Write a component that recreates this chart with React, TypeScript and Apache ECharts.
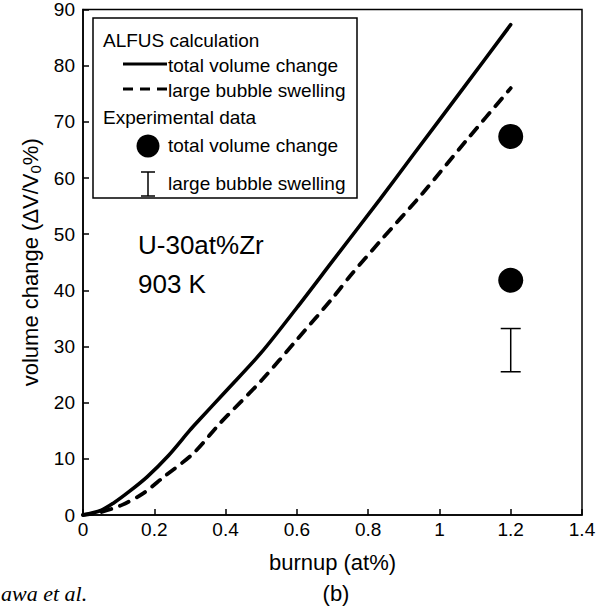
import React, { useEffect, useRef } from "react";
import * as echarts from "echarts";

// ALFUS calculation: total volume change (solid)
const totalX = [0, 0.05, 0.085, 0.13, 0.18, 0.24, 0.3, 0.32, 0.4, 0.5, 0.6, 0.7, 0.833, 0.925, 1.066, 1.2];
const totalY = [0, 0.8, 2.1, 4.2, 6.8, 10.6, 15.1, 16.5, 22.0, 28.9, 36.9, 45.2, 56.2, 64.0, 75.9, 87.3];
// ALFUS calculation: large bubble swelling (dashed)
const bubbleX = [0, 0.05, 0.11, 0.17, 0.225, 0.31, 0.384, 0.5, 0.6, 0.7, 0.75, 0.833, 0.953, 1.077, 1.2];
const bubbleY = [0, 0.5, 1.8, 3.9, 6.7, 11.0, 16.3, 23.9, 31.2, 38.6, 42.6, 48.7, 57.3, 66.8, 76.0];
// Experimental data
const expX = [1.2, 1.2];
const expTotal = [67.4, 41.8];
const errX = [1.2];
const errLow = [25.5];
const errHigh = [33.2];

const xTicks = { min: 0, max: 1.4, interval: 0.2 };
const yTicks = { min: 0, max: 90, interval: 10 };

const FONT = "'Liberation Sans', Arial, Helvetica, sans-serif";

export default function App() {
  const ref = useRef<HTMLDivElement>(null);
  useEffect(() => {
    if (!ref.current) return;
    const chart = echarts.init(ref.current, undefined, { renderer: "svg" });
    const black = "#000";
    const lx = 123, lx2 = 167, tx = 168;
    chart.setOption({
      animation: false,
      backgroundColor: "#fff",
      textStyle: { fontFamily: FONT },
      grid: {
        left: 83, right: 27, top: 7, bottom: 93,
        show: true, borderColor: black, borderWidth: 1.5, backgroundColor: "transparent",
      },
      xAxis: {
        type: "value", ...xTicks,
        name: "burnup (at%)", nameLocation: "middle", nameGap: 36,
        nameTextStyle: { fontSize: 22, color: black, fontFamily: FONT },
        axisLine: { show: true, lineStyle: { color: black, width: 1.5 } },
        axisTick: { show: true, inside: true, length: 6, lineStyle: { color: black, width: 1.5 } },
        axisLabel: { fontSize: 19, color: black, margin: 5, fontFamily: FONT },
        splitLine: { show: false },
      },
      yAxis: {
        type: "value", ...yTicks,
        name: "{a|volume change (ΔV/V}{s|0}{a|%)}", nameLocation: "middle", nameGap: 38,
        nameTextStyle: {
          color: black, fontFamily: FONT,
          rich: {
            a: { fontSize: 22, color: black, fontFamily: FONT },
            s: { fontSize: 15, color: black, fontFamily: FONT, padding: [10, 0, 0, 0] },
          },
        },
        axisLine: { show: true, lineStyle: { color: black, width: 1.5 } },
        axisTick: { show: true, inside: true, length: 6, lineStyle: { color: black, width: 1.5 } },
        axisLabel: { fontSize: 19, color: black, margin: 8, fontFamily: FONT },
        splitLine: { show: false },
      },
      series: [
        {
          type: "line", name: "total", showSymbol: false, smooth: 0.3,
          data: totalX.map((x, i) => [x, totalY[i]]),
          lineStyle: { color: black, width: 3.6, cap: "round" },
        },
        {
          type: "line", name: "bubble", showSymbol: false, smooth: 0.3,
          data: bubbleX.map((x, i) => [x, bubbleY[i]]),
          lineStyle: { color: black, width: 3.8, type: [10, 9], cap: "round" },
        },
        {
          type: "scatter", symbol: "circle", symbolSize: 25,
          data: expX.map((x, i) => [x, expTotal[i]]),
          itemStyle: { color: black, opacity: 1 },
        },
        {
          type: "custom",
          data: errX.map((x, i) => [x, errLow[i], errHigh[i]]),
          renderItem: (params: any, api: any) => {
            const lo = api.coord([api.value(0), api.value(1)]);
            const hi = api.coord([api.value(0), api.value(2)]);
            const w = 10;
            const st = { stroke: black, lineWidth: 1.5 };
            return {
              type: "group",
              children: [
                { type: "line", shape: { x1: lo[0], y1: lo[1], x2: hi[0], y2: hi[1] }, style: st },
                { type: "line", shape: { x1: lo[0] - w, y1: lo[1], x2: lo[0] + w, y2: lo[1] }, style: st },
                { type: "line", shape: { x1: hi[0] - w, y1: hi[1], x2: hi[0] + w, y2: hi[1] }, style: st },
              ],
            };
          },
        },
      ],
      graphic: [
        { type: "rect", shape: { x: 93, y: 18, width: 264, height: 180 }, style: { fill: "#fff", stroke: black, lineWidth: 1.5 }, z: 10 },
        { type: "text", x: 103, y: 40, style: { text: "ALFUS calculation", fontSize: 19, fontFamily: FONT, fill: black, verticalAlign: "middle" }, z: 11 },
        { type: "line", shape: { x1: lx, y1: 64, x2: lx2, y2: 64 }, style: { stroke: black, lineWidth: 3 }, z: 11 },
        { type: "text", x: tx, y: 65, style: { text: "total volume change", fontSize: 19, fontFamily: FONT, fill: black, verticalAlign: "middle" }, z: 11 },
        { type: "line", shape: { x1: lx, y1: 89, x2: lx2, y2: 89 }, style: { stroke: black, lineWidth: 3, lineDash: [10, 7] }, z: 11 },
        { type: "text", x: tx, y: 90, style: { text: "large bubble swelling", fontSize: 19, fontFamily: FONT, fill: black, verticalAlign: "middle" }, z: 11 },
        { type: "text", x: 103, y: 117, style: { text: "Experimental data", fontSize: 19, fontFamily: FONT, fill: black, verticalAlign: "middle" }, z: 11 },
        { type: "circle", shape: { cx: 148, cy: 146, r: 11.5 }, style: { fill: black }, z: 11 },
        { type: "text", x: tx, y: 145, style: { text: "total volume change", fontSize: 19, fontFamily: FONT, fill: black, verticalAlign: "middle" }, z: 11 },
        { type: "line", shape: { x1: 148, y1: 172, x2: 148, y2: 196 }, style: { stroke: black, lineWidth: 1.5 }, z: 11 },
        { type: "line", shape: { x1: 141, y1: 172, x2: 155, y2: 172 }, style: { stroke: black, lineWidth: 1.5 }, z: 11 },
        { type: "line", shape: { x1: 141, y1: 196, x2: 155, y2: 196 }, style: { stroke: black, lineWidth: 1.5 }, z: 11 },
        { type: "text", x: tx, y: 183, style: { text: "large bubble swelling", fontSize: 19, fontFamily: FONT, fill: black, verticalAlign: "middle" }, z: 11 },
        { type: "text", x: 138, y: 245, style: { text: "U-30at%Zr", fontSize: 26, fontFamily: FONT, fill: black, verticalAlign: "middle" }, z: 11 },
        { type: "text", x: 138, y: 284, style: { text: "903 K", fontSize: 26, fontFamily: FONT, fill: black, verticalAlign: "middle" }, z: 11 },
        { type: "text", x: 336, y: 593, style: { text: "(b)", fontSize: 22, fontFamily: FONT, fill: black, align: "center", verticalAlign: "middle" }, z: 11 },
        { type: "text", x: 1, y: 593, style: { text: "awa et al.", fontSize: 22, fontStyle: "italic", fontFamily: "'Liberation Serif', 'Times New Roman', serif", fill: black, verticalAlign: "middle" }, z: 11 },
      ],
    });
    return () => chart.dispose();
  }, []);
  return <div ref={ref} style={{ position: "fixed", left: 0, top: 0, width: 609, height: 608, background: "#fff" }} />;
}
